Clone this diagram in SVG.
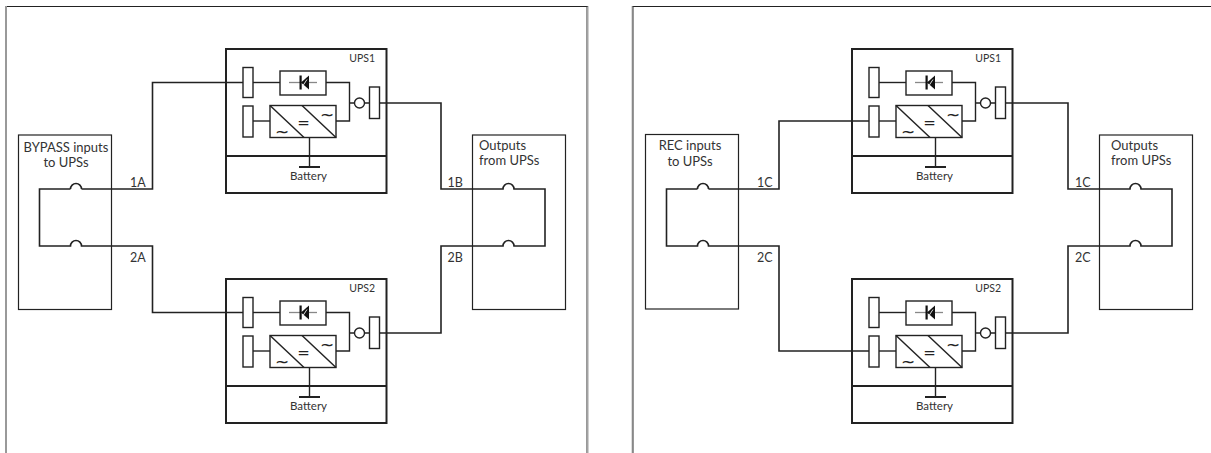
<svg xmlns="http://www.w3.org/2000/svg" xmlns:xlink="http://www.w3.org/1999/xlink" width="1211" height="453" viewBox="0 0 1211 453">
<style>
  .frame-top{stroke:#222;stroke-width:1;fill:none}
  .frame-side{stroke:#999;stroke-width:2;fill:none}
  .frame-dark{stroke:#333;stroke-width:1;fill:none}
  .box{fill:none;stroke:#222;stroke-width:1.2}
  .outer{fill:none;stroke:#222;stroke-width:2}
  .part{fill:#fff;stroke:#222;stroke-width:1.4}
  .ln{fill:none;stroke:#222;stroke-width:1.4}
  .wire{fill:none;stroke:#222;stroke-width:1.6}
  text{font-family:Lato,"Liberation Sans",sans-serif;fill:#333}
  .lbl{font-size:12.5px}
  .boxt{font-size:13px}
  .bat{font-size:11.5px;text-anchor:middle}
  .upsn{font-size:10.5px;text-anchor:end}
  .sym{font-size:17px;text-anchor:middle;font-family:"DejaVu Sans",sans-serif;fill:#222}
  .eq{font-size:15px}
</style>
<defs>
  <g id="ups">
    <rect class="outer" x="0" y="0" width="160.5" height="144"/>
    <line class="outer" x1="0" y1="107" x2="160.5" y2="107"/>
    <rect class="part" x="17" y="18.5" width="10" height="30"/>
    <rect class="part" x="17" y="57" width="10" height="31"/>
    <line class="ln" x1="27" y1="33.5" x2="54" y2="33.5"/>
    <line class="ln" x1="27" y1="72" x2="44" y2="72"/>
    <rect class="part" x="54" y="22" width="46" height="24"/>
    <line x1="63" y1="33.5" x2="91" y2="33.5" stroke="#888" stroke-width="1.3"/>
    <rect x="73.5" y="26.5" width="2.2" height="14" fill="#111"/>
    <polygon points="75,33.5 83,26.5 83,40.5" fill="#111"/>
    <line x1="77" y1="36.5" x2="81" y2="30.5" stroke="#ddd" stroke-width="1"/>
    <rect class="part" x="44" y="56.5" width="66" height="32"/>
    <line class="ln" x1="44" y1="56.5" x2="78" y2="88.5"/>
    <line class="ln" x1="76" y1="56.5" x2="110" y2="88.5"/>
    <text class="sym" x="56" y="89">~</text>
    <text class="sym" x="101" y="71.5">~</text>
    <text class="sym eq" x="77.5" y="79">=</text>
    <path class="ln" d="M100 33.5H123.5V72H110M123.5 54H128.5M138.5 54H143.5"/>
    <circle class="ln" cx="133.5" cy="54" r="5"/>
    <rect class="part" x="143.5" y="38" width="10" height="31.5"/>
    <line class="ln" x1="83.5" y1="88.5" x2="83.5" y2="118"/>
    <line x1="73" y1="118" x2="94" y2="118" stroke="#222" stroke-width="2"/>
    <text class="bat" x="82.5" y="131">Battery</text>
  </g>
</defs>

<g id="frames">
  <line class="frame-top" x1="6" y1="6.5" x2="588" y2="6.5"/>
  <line class="frame-side" x1="6" y1="6" x2="6" y2="453"/>
  <line class="frame-dark" x1="587" y1="6" x2="587" y2="453"/>
  <line x1="588.2" y1="6" x2="588.2" y2="453" stroke="#bbb" stroke-width="1"/>
  <line class="frame-top" x1="632.5" y1="6.5" x2="1211" y2="6.5"/>
  <line x1="632" y1="6" x2="632" y2="453" stroke="#bbb" stroke-width="1"/>
  <line class="frame-dark" x1="633" y1="6" x2="633" y2="453"/>
</g>

<g id="connectors">
  <path class="wire" d="M70.5 189H39.5V246H70.5A5.5 5.5 0 0 1 81.5 246H152.5V312.5H243"/>
  <path class="wire" d="M81.5 189A5.5 5.5 0 0 0 70.5 189M81.5 189H152.5V82.5H243"/>
  <path class="wire" d="M379.5 103H441V189H503A5.5 5.5 0 0 1 514 189H545V246H514A5.5 5.5 0 0 0 503 246H441V333H379.5"/>
  <path class="wire" d="M697.5 189H666.5V246H697.5A5.5 5.5 0 0 1 708.5 246H779V351H869"/>
  <path class="wire" d="M708.5 189A5.5 5.5 0 0 0 697.5 189M708.5 189H779V121H869"/>
  <path class="wire" d="M1005.5 103H1068V189H1130A5.5 5.5 0 0 1 1141 189H1172V246H1141A5.5 5.5 0 0 0 1130 246H1068V333H1005.5"/>
  <text class="lbl" x="130" y="186.5">1A</text>
  <text class="lbl" x="130" y="262">2A</text>
  <text class="lbl" x="447.5" y="186.5">1B</text>
  <text class="lbl" x="447.5" y="262">2B</text>
  <text class="lbl" x="757" y="186.5">1C</text>
  <text class="lbl" x="757" y="262">2C</text>
  <text class="lbl" x="1075" y="186.5">1C</text>
  <text class="lbl" x="1075" y="262">2C</text>
</g>

<g id="bypass-inputs">
  <rect class="box" x="18.5" y="135" width="93" height="174.5"/>
  <text class="boxt" x="66" y="151.5" text-anchor="middle">BYPASS inputs</text>
  <text class="boxt" x="66" y="166.5" text-anchor="middle">to UPSs</text>
</g>
<g id="outputs-left">
  <rect class="box" x="472.5" y="135" width="93" height="174.5"/>
  <text class="boxt" x="479" y="149.5">Outputs</text>
  <text class="boxt" x="479" y="165">from UPSs</text>
</g>
<g id="ups1-left">
  <use xlink:href="#ups" href="#ups" x="226" y="49"/>
  <text class="upsn" x="375" y="61.5">UPS1</text>
</g>
<g id="ups2-left">
  <use xlink:href="#ups" href="#ups" x="226" y="279"/>
  <text class="upsn" x="375" y="291.5">UPS2</text>
</g>

<g id="rec-inputs">
  <rect class="box" x="645.5" y="134.5" width="93" height="174.5"/>
  <text class="boxt" x="690" y="150" text-anchor="middle">REC inputs</text>
  <text class="boxt" x="690" y="165.5" text-anchor="middle">to UPSs</text>
</g>
<g id="outputs-right">
  <rect class="box" x="1099.5" y="135" width="93" height="174.5"/>
  <text class="boxt" x="1111" y="149.5">Outputs</text>
  <text class="boxt" x="1111" y="165">from UPSs</text>
</g>
<g id="ups1-right">
  <use xlink:href="#ups" href="#ups" x="852" y="49"/>
  <text class="upsn" x="1001" y="61.5">UPS1</text>
</g>
<g id="ups2-right">
  <use xlink:href="#ups" href="#ups" x="852" y="279"/>
  <text class="upsn" x="1001" y="291.5">UPS2</text>
</g>
</svg>
